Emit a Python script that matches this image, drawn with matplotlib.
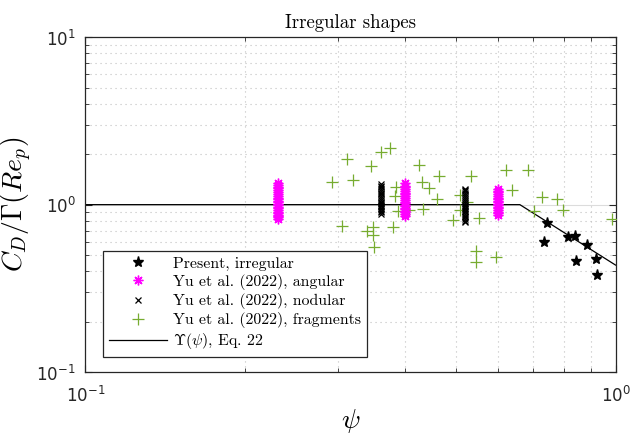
import numpy as np
import matplotlib
matplotlib.use('Agg')
import matplotlib.pyplot as plt
from matplotlib.ticker import FixedLocator, NullFormatter

plt.rcParams['mathtext.fontset'] = 'cm'
plt.rcParams['font.family'] = ['cmr10', 'DejaVu Serif']
plt.rcParams['axes.formatter.use_mathtext'] = True

# ---- data ----
# present study, irregular particles
present_psi = [0.744, 0.734, 0.812, 0.839, 0.885, 0.843, 0.920, 0.923]
present_cd = [0.780, 0.598, 0.638, 0.650, 0.574, 0.461, 0.471, 0.380]

# Yu et al. (2022), angular (three shapes, many runs each)
angular_psi = [0.231, 0.401, 0.601]
angular_cd = [
    [0.82, 0.84, 0.86, 0.87, 0.89, 0.91, 0.93, 0.95, 0.97, 0.99, 1.01, 1.03,
     1.05, 1.08, 1.10, 1.13, 1.16, 1.19, 1.22, 1.25, 1.28, 1.31, 1.34],
    [0.86, 0.88, 0.90, 0.92, 0.94, 0.96, 0.98, 1.00, 1.02, 1.04, 1.06, 1.09,
     1.12, 1.15, 1.18, 1.21, 1.24, 1.27, 1.30, 1.34],
    [0.87, 0.89, 0.91, 0.93, 0.95, 0.97, 0.99, 1.01, 1.03, 1.05, 1.08, 1.10,
     1.13, 1.16, 1.19, 1.21, 1.235],
]

# Yu et al. (2022), nodular
nodular_psi = [0.361, 0.520]
nodular_cd = [
    [0.883, 0.90, 0.92, 0.94, 0.96, 0.98, 1.00, 1.02, 1.04, 1.06, 1.09, 1.12,
     1.15, 1.18, 1.21, 1.24, 1.27, 1.30, 1.33],
    [0.788, 0.80, 0.82, 0.84, 0.86, 0.88, 0.90, 0.92, 0.94, 0.96, 0.98, 1.00,
     1.02, 1.05, 1.08, 1.11, 1.14, 1.17, 1.20, 1.22, 1.24],
]

# Yu et al. (2022), fragments
frag_psi = [0.292, 0.311, 0.320, 0.305, 0.346, 0.361, 0.376, 0.339, 0.349, 0.349,
            0.350, 0.380, 0.385, 0.384, 0.389, 0.407, 0.426, 0.431, 0.445, 0.465,
            0.460, 0.434, 0.494, 0.509, 0.509, 0.524, 0.534, 0.553, 0.621, 0.683,
            0.638, 0.726, 0.775, 0.702, 0.797, 0.985, 0.546, 0.545, 0.595]
frag_cd = [1.36, 1.87, 1.40, 0.748, 1.70, 2.05, 2.17, 0.696, 0.738, 0.659,
           0.561, 0.735, 1.275, 1.13, 0.917, 0.929, 1.72, 1.37, 1.25, 1.477,
           1.08, 0.946, 0.806, 1.14, 0.929, 1.04, 1.477, 0.829, 1.60, 1.60,
           1.22, 1.116, 1.08, 0.920, 0.929, 0.824, 0.531, 0.452, 0.485]

# Upsilon(psi), Eq. 22: constant then power law
ups_psi = [0.1, 0.66, 1.0]
ups_val = [1.0, 1.0, 0.4356]

fig = plt.figure(figsize=(6.3, 4.37), dpi=100)
ax = fig.add_axes([0.1357, 0.1487, 0.8413, 0.766])
ax.set_xscale('log')
ax.set_yscale('log')
ax.set_xlim(0.1, 1)
ax.set_ylim(0.1, 10)

green = '#77AC30'
ast = (8, 2, 0)

h1, = ax.plot(present_psi, present_cd, linestyle='none', marker='*', color='k',
              markersize=8, label='Present, irregular', zorder=5)
for p, vals in zip(angular_psi, angular_cd):
    h2, = ax.plot([p] * len(vals), vals, linestyle='none', marker=ast, color='#FF00FF',
                  markersize=7, markeredgewidth=1.0, label='Yu et al. (2022), angular', zorder=4)
for p, vals in zip(nodular_psi, nodular_cd):
    h3, = ax.plot([p] * len(vals), vals, linestyle='none', marker='x', color='k',
                  markersize=5, markeredgewidth=0.9, label='Yu et al. (2022), nodular', zorder=4)
h4, = ax.plot(frag_psi, frag_cd, linestyle='none', marker='+', color=green,
              markersize=8, markeredgewidth=0.9, label='Yu et al. (2022), fragments', zorder=3)
h5, = ax.plot(ups_psi, ups_val, color='k', linewidth=0.9,
              label=r'$\Upsilon(\psi)$, Eq. 22', zorder=2)

# grid: solid major line at 1, dotted minor lines
ax.axhline(1.0, color='#dcdcdc', linewidth=0.8, zorder=0)
minor_x = [0.2, 0.3, 0.4, 0.5, 0.6, 0.7, 0.8, 0.9]
minor_y = [0.2, 0.3, 0.4, 0.5, 0.6, 0.7, 0.8, 0.9, 2, 3, 4, 5, 6, 7, 8, 9]
ax.xaxis.set_minor_locator(FixedLocator(minor_x))
ax.yaxis.set_minor_locator(FixedLocator(minor_y))
ax.xaxis.set_minor_formatter(NullFormatter())
ax.yaxis.set_minor_formatter(NullFormatter())
ax.grid(True, which='minor', linestyle=(0, (1, 3.5)), color='#c0c0c0', linewidth=0.8)

ax.tick_params(which='both', direction='in', top=True, right=True, colors='#262626')
ax.tick_params(which='major', length=5, width=0.8)
ax.tick_params(which='minor', length=3, width=0.6)
for s in ax.spines.values():
    s.set_color('#262626')
    s.set_linewidth(0.9)

ax.set_xticks([0.1, 1])
ax.set_yticks([0.1, 1, 10])
tick_font = dict(family='Liberation Sans', size=12, math_fontfamily='dejavusans')
ax.set_xticklabels([r'$10^{-1}$', r'$10^{0}$'], fontdict=tick_font)
ax.set_yticklabels([r'$10^{-1}$', r'$10^{0}$', r'$10^{1}$'], fontdict=tick_font)
ax.tick_params(axis='x', which='major', pad=9)
ax.tick_params(axis='y', which='major', pad=7)

ax.set_title('Irregular shapes', fontsize=13.5, pad=7)
ax.set_xlabel(r'$\psi$', fontsize=20, labelpad=2)
ax.set_ylabel(r'$C_D/\Gamma(Re_p)$', fontsize=20)
ax.yaxis.set_label_coords(-0.097, 0.5)

leg = ax.legend(handles=[h1, h2, h3, h4, h5], loc='lower left',
                bbox_to_anchor=(0.0336, 0.0457), borderaxespad=0, fontsize=11.4,
                handlelength=3.7, handletextpad=0.4, labelspacing=0.2,
                borderpad=0.33, numpoints=1, fancybox=False, framealpha=1)
leg.get_frame().set_edgecolor('#262626')
leg.get_frame().set_linewidth(0.9)

fig.savefig('out.png', dpi=100)
